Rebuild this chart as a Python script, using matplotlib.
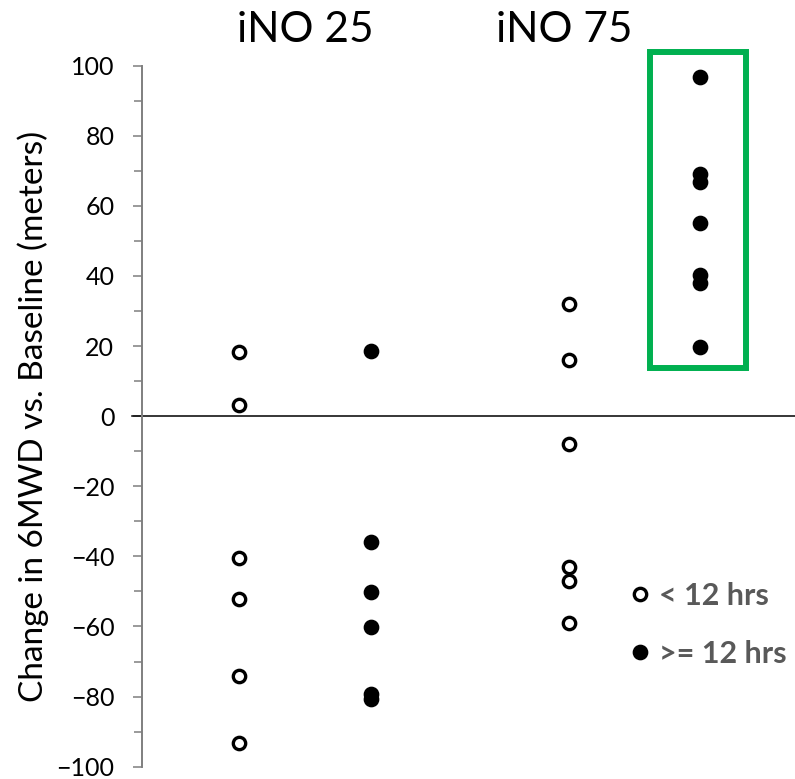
import matplotlib
matplotlib.use('Agg')
import matplotlib.pyplot as plt
from matplotlib.lines import Line2D
from matplotlib.patches import Rectangle
import matplotlib.transforms as mtransforms

plt.rcParams['font.family'] = ['Lato', 'DejaVu Sans']

# group positions and values (change in 6MWD vs baseline, meters)
x_pos = [1, 2, 3.5, 4.5]
ino25_short = [18.2, 3.1, -40.6, -52.3, -74.2, -93.2]
ino25_long = [18.5, -36.0, -50.1, -60.1, -79.2, -80.6]
ino75_short = [32.0, 16.0, -7.8, -43.0, -47.0, -58.9]
ino75_long = [96.8, 69.2, 66.9, 55.0, 40.2, 37.9, 19.8]
group_titles = ['iNO 25', 'iNO 75']
title_x = [1.5, 3.47]
legend_labels = ['< 12 hrs', '>= 12 hrs']

fig = plt.figure(figsize=(7.95, 7.79), dpi=100)
ax = fig.add_axes([0.1782, 0.0158, 0.8218, 0.8999])

ms = 8.9
mew = 2.4
open_style = dict(linestyle='none', marker='o', markersize=ms, markeredgewidth=mew,
                  markeredgecolor='black', markerfacecolor='white', clip_on=False, zorder=3)
fill_style = dict(open_style, markerfacecolor='black')

ax.plot([x_pos[0]] * len(ino25_short), ino25_short, **open_style)
ax.plot([x_pos[1]] * len(ino25_long), ino25_long, **fill_style)
ax.plot([x_pos[2]] * len(ino75_short), ino75_short, **open_style)
ax.plot([x_pos[3]] * len(ino75_long), ino75_long, **fill_style)

ax.set_xlim(0.259, 5.219)
ax.set_ylim(-100, 100)

# zero line
ax.axhline(0, xmin=-0.015, xmax=1, color='black', linewidth=1.1, clip_on=False, zorder=2)

# green box around iNO 75 >= 12 hrs
ax.add_patch(Rectangle((4.118, 13.7), 0.726, 90.1, fill=False, edgecolor='#00B050',
                       linewidth=4.3, clip_on=False, zorder=1))

for side in ['top', 'right', 'bottom']:
    ax.spines[side].set_visible(False)
ax.spines['left'].set_color('#7f7f7f')
ax.spines['left'].set_linewidth(1.4)

ax.set_xticks([])
ax.set_yticks(range(-100, 101, 20))
ax.set_yticks(range(-90, 100, 20), minor=True)
ax.tick_params(axis='y', which='major', length=6.7, width=1.1, color='#7f7f7f',
               labelsize=18, labelcolor='black', pad=13)
ax.tick_params(axis='y', which='minor', length=5.5, width=1.1, color='#7f7f7f')

fig.text(33 / 795, 0.466, 'Change in 6MWD vs. Baseline (meters)', rotation=90,
         ha='center', va='center', fontsize=24, color='black')

trans = mtransforms.blended_transform_factory(ax.transData, fig.transFigure)
for tx, t in zip(title_x, group_titles):
    ax.text(tx, 1 - 42.3 / 779, t, transform=trans, ha='center', va='baseline',
            fontsize=30.5, color='black')

handles = [Line2D([], [], **open_style), Line2D([], [], **fill_style)]
leg = ax.legend(handles, legend_labels, loc='upper left', bbox_to_anchor=(0.749, 0.264),
                frameon=False, handlelength=0.6, handletextpad=0.3, labelspacing=1.0,
                borderpad=0, borderaxespad=0, prop={'weight': 'bold', 'size': 22})
for txt in leg.get_texts():
    txt.set_color('#595959')

plt.savefig('out.png', dpi=100)
plt.close()
